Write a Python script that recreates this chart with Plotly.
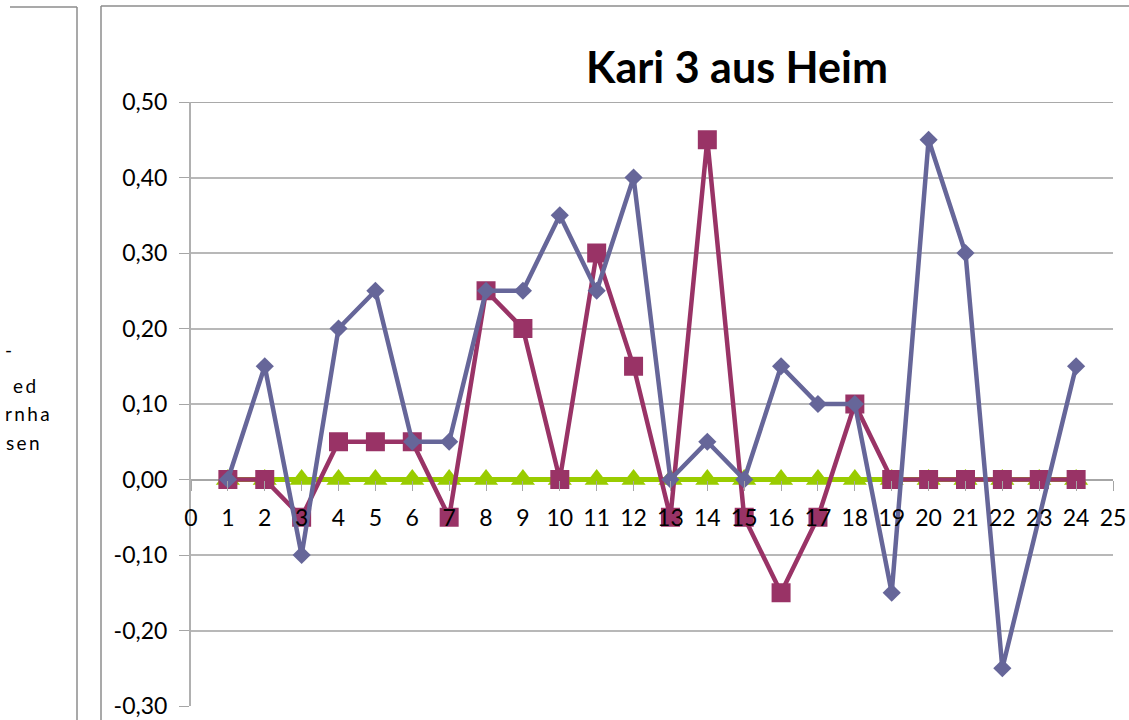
import plotly.graph_objects as go

x_vals = list(range(1, 25))
series_blue = [0.00, 0.15, -0.10, 0.20, 0.25, 0.05, 0.05, 0.25, 0.25, 0.35, 0.25, 0.40,
               0.00, 0.05, 0.00, 0.15, 0.10, 0.10, -0.15, 0.45, 0.30, -0.25, None, 0.15]
series_maroon = [0.00, 0.00, -0.05, 0.05, 0.05, 0.05, -0.05, 0.25, 0.20, 0.00, 0.30, 0.15,
                 -0.05, 0.45, -0.05, -0.15, -0.05, 0.10, 0.00, 0.00, 0.00, 0.00, 0.00, 0.00]
series_green = [0.00] * 24
y_tick_vals = [-0.3, -0.2, -0.1, 0.0, 0.1, 0.2, 0.3, 0.4, 0.5]
y_tick_labels = ["-0,30", "-0,20", "-0,10", "0,00", "0,10", "0,20", "0,30", "0,40", "0,50"]
title_text = "Kari 3 aus Heim"
left_texts = ["-", "e\u2009d", "r\u2009n\u2009h\u2009a", "s\u2009e\u2009n"]

W, H = 1129, 720
L, R, T, B = 191, 16, 102, 14
PW, PH = W - L - R, H - T - B

def px(x):
    return (x - L) / PW

def py(y):
    return (H - B - y) / PH

FONT = "Lato, Carlito, Calibri, sans-serif"

fig = go.Figure()
fig.add_trace(go.Scatter(x=x_vals, y=series_green, mode="lines+markers",
                         line=dict(color="#99cc00", width=5),
                         marker=dict(symbol="triangle-up", size=21, color="#99cc00"),
                         showlegend=False))
fig.add_trace(go.Scatter(x=x_vals, y=series_maroon, mode="lines+markers",
                         line=dict(color="#993366", width=4.5),
                         marker=dict(symbol="square", size=19, color="#993366"),
                         showlegend=False))
fig.add_trace(go.Scatter(x=x_vals, y=series_blue, mode="lines+markers", connectgaps=True,
                         line=dict(color="#666699", width=4.5),
                         marker=dict(symbol="diamond", size=14, color="#666699"),
                         showlegend=False))

fig.update_layout(
    width=W, height=H,
    margin=dict(l=L, r=R, t=T, b=B, autoexpand=False),
    paper_bgcolor="white", plot_bgcolor="white",
    font=dict(family=FONT, color="black"),
    title=dict(text="<b>" + title_text + "</b>", xref="container", x=737 / W, xanchor="center",
               yref="container", y=1 - 68 / H, yanchor="middle",
               font=dict(family=FONT, size=43, color="black")),
    xaxis=dict(range=[0, 25], dtick=1, tick0=0, showgrid=False, zeroline=False,
               showline=False, automargin=False,
               ticks="outside", ticklen=10, tickcolor="#a6a6a6", tickwidth=1,
               anchor="free", position=0.3 / 0.8,
               tickfont=dict(size=23, family=FONT), ticklabelstandoff=8),
    yaxis=dict(range=[-0.3, 0.5], tickmode="array", tickvals=y_tick_vals, ticktext=y_tick_labels,
               showgrid=True, gridcolor="#b8b8b8", gridwidth=1.5,
               zeroline=True, zerolinecolor="#a6a6a6", zerolinewidth=2,
               showline=True, linecolor="#b0b0b0", linewidth=2, automargin=False,
               ticks="outside", ticklen=10, tickcolor="#a6a6a6",
               tickfont=dict(size=23, family=FONT), ticklabelstandoff=7),
)

gray = "#8c8c8c"
shapes = [
    dict(type="line", xref="paper", yref="paper", x0=px(101), x1=px(1129), y0=py(6), y1=py(6),
         line=dict(color=gray, width=1.5)),
    dict(type="line", xref="paper", yref="paper", x0=px(101), x1=px(101), y0=py(6), y1=py(720),
         line=dict(color=gray, width=1.5)),
    dict(type="line", xref="paper", yref="paper", x0=px(10), x1=px(77), y0=py(7), y1=py(7),
         line=dict(color=gray, width=1.5)),
    dict(type="line", xref="paper", yref="paper", x0=px(77), x1=px(77), y0=py(7), y1=py(720),
         line=dict(color=gray, width=1.5)),
    dict(type="line", xref="paper", yref="y", x0=0, x1=1, y0=0.5, y1=0.5, layer="below",
         line=dict(color="#8c8c8c", width=1.5)),
]
fig.update_layout(shapes=shapes)

ann_pos = [(14, 349), (38, 385), (52, 413), (42, 442)]
for txt, (xr, yc) in zip(left_texts, ann_pos):
    fig.add_annotation(text=txt, xref="paper", yref="paper", x=px(xr), y=py(yc),
                       xanchor="right", yanchor="middle", showarrow=False,
                       font=dict(family=FONT, size=19, color="black"))

fig.write_html("out.html", config={"displayModeBar": False},
               post_script="document.body.style.margin='0';document.body.style.overflow='hidden';")
